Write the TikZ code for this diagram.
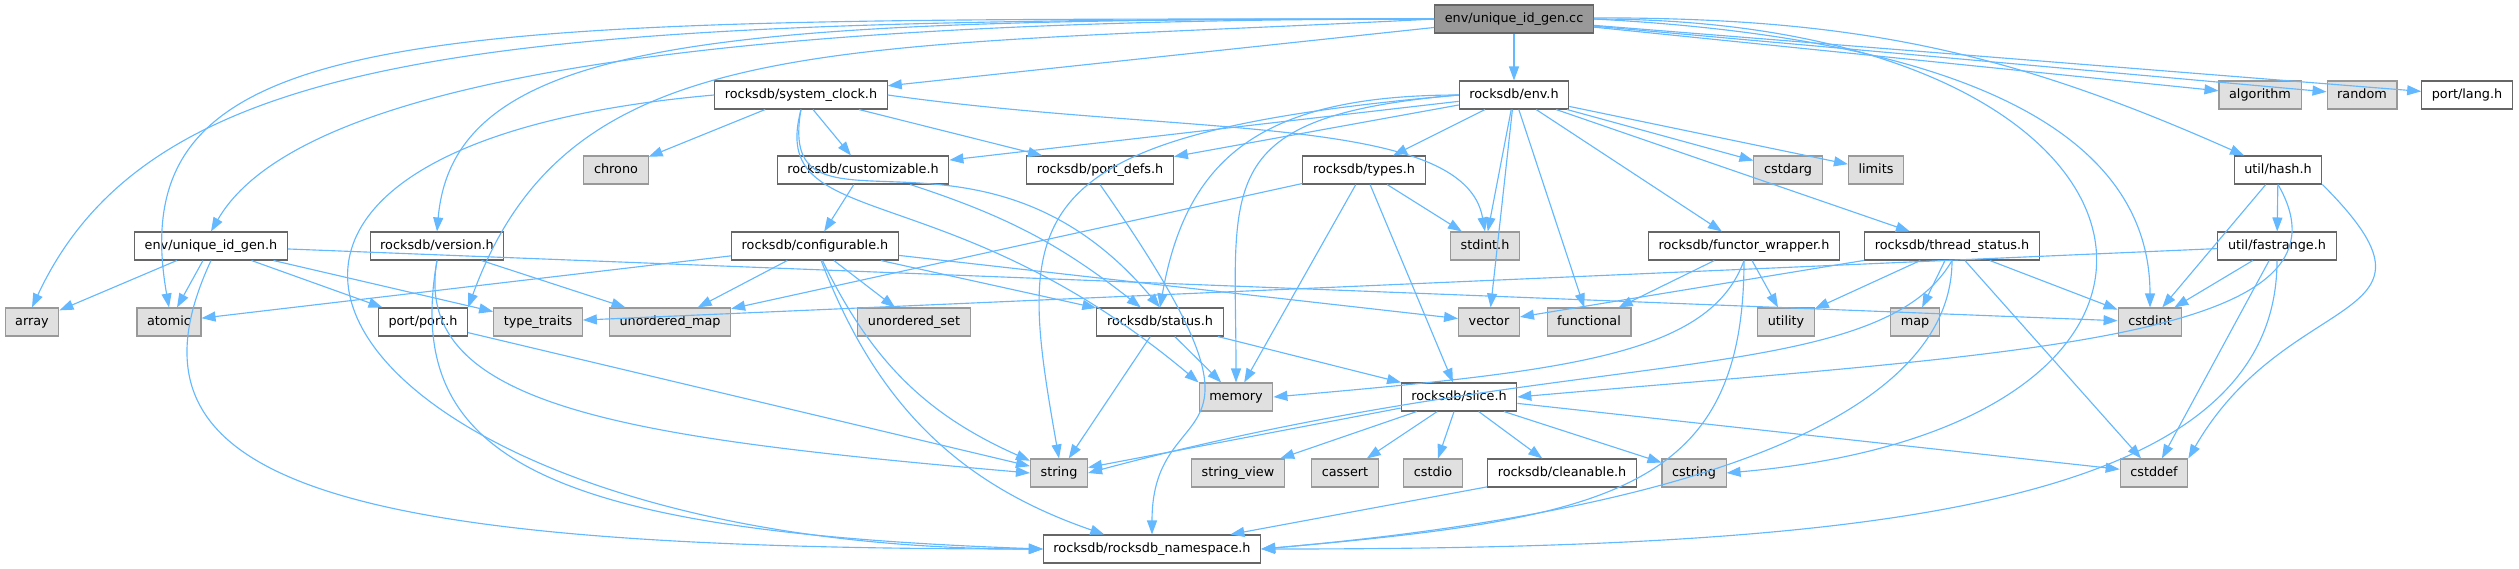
\documentclass[tikz,border=0pt]{standalone}
\usepackage{fontspec}
\setmainfont{DejaVu Sans}
\usetikzlibrary{arrows.meta}
\definecolor{linkblue}{HTML}{63B8FF}
\definecolor{stdfill}{HTML}{E0E0E0}
\definecolor{stdline}{HTML}{999999}
\definecolor{hdrline}{HTML}{666666}
\begin{document}
\begin{tikzpicture}[
		x=0.75pt, y=0.75pt,
		every node/.style={draw=hdrline, fill=white, line width=0.8pt, font=\fontsize{9.6pt}{11pt}\selectfont,
			minimum height=21pt, inner xsep=7.6pt, inner ysep=0pt, text height=7.2pt, text depth=2.2pt},
		stdheader/.style={draw=stdline, fill=stdfill},
		source/.style={draw=hdrline, fill=stdline},
		incl/.style={draw=linkblue, line width=0.85pt, -{Triangle[length=10.5pt,width=7.5pt]}}
	]
		\useasboundingbox (0,0) rectangle (2519,-568);
		\node[source] (cc) at (1514,-19) {env/unique\_id\_gen.cc};
		\node (sysclock) at (801,-95) {rocksdb/system\_clock.h};
		\node (env) at (1514,-95) {rocksdb/env.h};
		\node[stdheader] (algorithm) at (2260,-95) {algorithm};
		\node[stdheader] (random) at (2362,-95) {random};
		\node (lang) at (2467,-95) {port/lang.h};
		\node[stdheader] (chrono) at (616,-170) {chrono};
		\node (customizable) at (863,-170) {rocksdb/customizable.h};
		\node (portdefs) at (1100,-170) {rocksdb/port\_defs.h};
		\node (types) at (1364,-170) {rocksdb/types.h};
		\node[stdheader] (cstdarg) at (1788,-170) {cstdarg};
		\node[stdheader] (limits) at (1876,-170) {limits};
		\node (hash) at (2278,-170) {util/hash.h};
		\node (uidh) at (211,-246) {env/unique\_id\_gen.h};
		\node (version) at (437,-246) {rocksdb/version.h};
		\node (configurable) at (815,-246) {rocksdb/configurable.h};
		\node[stdheader] (stdint) at (1485,-246) {stdint.h};
		\node (functor) at (1744,-246) {rocksdb/functor\_wrapper.h};
		\node (threadstatus) at (1952,-246) {rocksdb/thread\_status.h};
		\node (fastrange) at (2277,-246) {util/fastrange.h};
		\node[stdheader] (array) at (32,-322) {array};
		\node[stdheader] (atomic) at (169,-322) {atomic};
		\node (port) at (423,-322) {port/port.h};
		\node[stdheader] (typetraits) at (538,-322) {type\_traits};
		\node[stdheader] (umap) at (670,-322) {unordered\_map};
		\node[stdheader] (uset) at (914,-322) {unordered\_set};
		\node (status) at (1160,-322) {rocksdb/status.h};
		\node[stdheader] (vector) at (1489,-322) {vector};
		\node[stdheader] (functional) at (1589,-322) {functional};
		\node[stdheader] (utility) at (1786,-322) {utility};
		\node[stdheader] (map) at (1915,-322) {map};
		\node[stdheader] (cstdint) at (2150,-322) {cstdint};
		\node[stdheader] (memory) at (1236,-397) {memory};
		\node (slice) at (1459,-397) {rocksdb/slice.h};
		\node[stdheader] (string) at (1059,-473) {string};
		\node[stdheader] (stringview) at (1238,-473) {string\_view};
		\node[stdheader] (cassert) at (1345,-473) {cassert};
		\node[stdheader] (cstdio) at (1433,-473) {cstdio};
		\node (cleanable) at (1562,-473) {rocksdb/cleanable.h};
		\node[stdheader] (cstring) at (1694,-473) {cstring};
		\node[stdheader] (cstddef) at (2154,-473) {cstddef};
		\node (namespace) at (1152,-549) {rocksdb/rocksdb\_namespace.h};

		\draw[incl] (cc) -- (env);
		\draw[incl] (cc) -- (sysclock);
		\draw[incl] (cc) -- (algorithm);
		\draw[incl] (cc) -- (random);
		\draw[incl] (cc) -- (lang);
		\draw[incl] (cc) to[bend left=12] (hash);
		\draw[incl] (cc.east) .. controls +(-3:450) and +(90:150) .. (cstdint);
		\draw[incl] (cc.east) .. controls +(0:600) and +(5:550) .. (cstring.east);
		\draw[incl] (cc.west) .. controls +(180:900) and +(65:300) .. (array.north);
		\draw[incl] (cc.west) .. controls +(180:1000) and +(100:300) .. (atomic.north);
		\draw[incl] (cc.west) .. controls +(180:600) and +(60:200) .. (uidh.north);
		\draw[incl] (cc.west) .. controls +(180:700) and +(85:200) .. (version.north);
		\draw[incl] (cc.west) .. controls +(183:600) and +(70:300) .. (port.north east);

		\draw[incl] (sysclock) -- (chrono);
		\draw[incl] (sysclock) -- (customizable);
		\draw[incl] (sysclock) -- (portdefs);
		\draw[incl] (sysclock.east) .. controls +(-8:300) and +(100:120) .. (stdint.north);
		\draw[incl] (sysclock.west) .. controls +(185:650) and +(180:700) .. (namespace.west);
		\draw[incl] (sysclock.south) .. controls +(-105:130) and +(140:330) .. (memory.north west);
		\draw[incl] (sysclock.south) .. controls +(-100:150) and +(130:280) .. (status.north);

		\draw[incl] (env) -- (customizable);
		\draw[incl] (env) -- (portdefs);
		\draw[incl] (env) -- (types);
		\draw[incl] (env) -- (stdint);
		\draw[incl] (env) -- (cstdarg);
		\draw[incl] (env) -- (limits);
		\draw[incl] (env) -- (functor);
		\draw[incl] (env) -- (threadstatus);
		\draw[incl] (env) -- (vector);
		\draw[incl] (env) -- (functional);
		\draw[incl] (env.west) .. controls +(180:200) and +(80:150) .. (status.north);
		\draw[incl] (env.west) .. controls +(185:250) and +(90:200) .. (memory.north);
		\draw[incl] (env.west) .. controls +(185:450) and +(100:250) .. (string.north);

		\draw[incl] (customizable) -- (configurable);
		\draw[incl] (customizable) to[bend left=10] (status);
		\draw[incl] (portdefs.south) .. controls +(-55:350) and +(90:150) .. (namespace.north);
		\draw[incl] (types) -- (stdint);
		\draw[incl] (types) -- (memory);
		\draw[incl] (types) -- (slice);
		\draw[incl] (types) -- (umap);

		\draw[incl] (configurable) -- (atomic);
		\draw[incl] (configurable) -- (umap);
		\draw[incl] (configurable) -- (uset);
		\draw[incl] (configurable) -- (status);
		\draw[incl] (configurable) -- (vector);
		\draw[incl] (configurable) to[bend right=20] (string);
		\draw[incl] (configurable) to[bend right=25] (namespace);

		\draw[incl] (uidh) -- (array);
		\draw[incl] (uidh) -- (atomic);
		\draw[incl] (uidh) -- (port);
		\draw[incl] (uidh) -- (typetraits);
		\draw[incl] (uidh) -- (cstdint);
		\draw[incl] (uidh.south) .. controls +(-115:250) and +(180:700) .. (namespace.west);
		\draw[incl] (version) -- (umap);
		\draw[incl] (version.south) .. controls +(-100:150) and +(175:400) .. (string.west);
		\draw[incl] (version.south) .. controls +(-100:200) and +(178:500) .. (namespace.west);
		\draw[incl] (port) -- (string);

		\draw[incl] (status) -- (memory);
		\draw[incl] (status) -- (string);
		\draw[incl] (status) -- (slice);
		\draw[incl] (slice) -- (string);
		\draw[incl] (slice) -- (stringview);
		\draw[incl] (slice) -- (cassert);
		\draw[incl] (slice) -- (cstdio);
		\draw[incl] (slice) -- (cleanable);
		\draw[incl] (slice) -- (cstring);
		\draw[incl] (slice) -- (cstddef);
		\draw[incl] (cleanable) -- (namespace);

		\draw[incl] (functor) -- (functional);
		\draw[incl] (functor) -- (utility);
		\draw[incl] (functor.south) .. controls +(-110:100) and +(5:300) .. (memory.east);
		\draw[incl] (functor.south) .. controls +(-90:230) and +(5:350) .. (namespace.east);
		\draw[incl] (threadstatus) -- (vector);
		\draw[incl] (threadstatus) -- (utility);
		\draw[incl] (threadstatus) -- (map);
		\draw[incl] (threadstatus) -- (cstdint);
		\draw[incl] (threadstatus) -- (cstddef);
		\draw[incl] (threadstatus.south) .. controls +(-120:150) and +(15:500) .. (string.east);
		\draw[incl] (threadstatus.south) .. controls +(-90:150) and +(5:450) .. (namespace.east);

		\draw[incl] (hash) -- (fastrange);
		\draw[incl] (hash) -- (cstdint);
		\draw[incl] (hash.south east) .. controls +(-45:200) and +(60:200) .. (cstddef.north east);
		\draw[incl] (hash.south) .. controls +(-60:180) and +(5:500) .. (slice.east);
		\draw[incl] (fastrange) -- (cstdint);
		\draw[incl] (fastrange) -- (cstddef);
		\draw[incl] (fastrange) -- (typetraits);
		\draw[incl] (fastrange.south) .. controls +(-90:250) and +(0:600) .. (namespace.east);
	\end{tikzpicture}
\end{document}
